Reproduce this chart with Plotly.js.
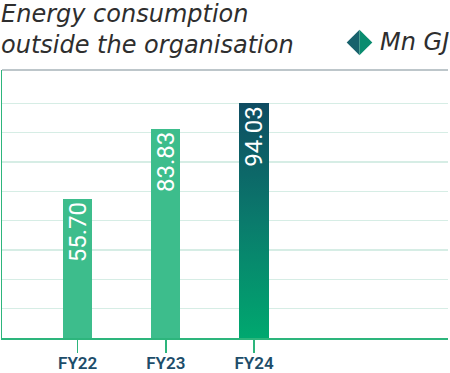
<!DOCTYPE html>
<html>
<head>
<meta charset="utf-8">
<script src="https://cdn.plot.ly/plotly-3.0.1.min.js"></script>
<style>html,body{margin:0;padding:0;background:#fff;}#chart{width:450px;height:373px;}</style>
</head>
<body>
<div id="chart"></div>
<script>
const categories = ["FY22", "FY23", "FY24"];
const values = [55.70, 83.83, 94.03];
const valueLabels = ["55.70", "83.83", "94.03"];
const unitLabel = "Mn GJ";
const titleLines = ["Energy consumption", "outside the organisation"];

const barColors = ["#3dbd8c", "#3dbd8c", "#0b6b68"];
const gridStep = 11.754;
const gridVals = [];
for (let i = 1; i <= 8; i++) gridVals.push(i * gridStep);

// pixel -> paper helpers (plot area: x 2..448, y 70..338)
const L = 2, R = 2, T = 70, B = 35, W = 450, H = 373;
const pw = W - L - R, ph = H - T - B;
const px = x => (x - L) / pw;
const py = y => (H - B - y) / ph;

const trace = {
  type: "bar",
  x: categories,
  y: values,
  text: valueLabels,
  texttemplate: "%{text}",
  textposition: "inside",
  insidetextanchor: "end",
  textangle: -90,
  constraintext: "none",
  cliponaxis: false,
  textfont: {family: "Roboto, sans-serif", size: 24, color: "#ffffff"},
  marker: {color: barColors, line: {width: 0}},
  width: 0.33,
  hoverinfo: "skip",
  showlegend: false
};

const cx = 359.5, cy = 42.5, hs = 12.8;
const shapes = [
  {type: "line", xref: "paper", yref: "paper", x0: px(2), x1: px(448), y0: py(70), y1: py(70),
   line: {color: "#a7b3b8", width: 1.5}},
  {type: "path", xref: "paper", yref: "paper",
   path: `M ${px(cx-hs)} ${py(cy)} L ${px(cx)} ${py(cy-hs)} L ${px(cx)} ${py(cy+hs)} Z`,
   fillcolor: "#17616c", line: {width: 0}},
  {type: "path", xref: "paper", yref: "paper",
   path: `M ${px(cx)} ${py(cy-hs)} L ${px(cx+hs)} ${py(cy)} L ${px(cx)} ${py(cy+hs)} Z`,
   fillcolor: "#0a8c6f", line: {width: 0}}
];

const titleFont = {family: "'DejaVu Sans', sans-serif", size: 24, color: "#2e2e2e", style: "italic", weight: 400};
const annotations = [
  {xref: "paper", yref: "paper", x: px(-1), y: py(-2), xanchor: "left", yanchor: "top",
   text: titleLines.join("<br>"), showarrow: false, align: "left",
   font: titleFont},
  {xref: "paper", yref: "paper", x: px(451), y: py(cy), xanchor: "right", yanchor: "middle",
   text: unitLabel, showarrow: false,
   font: titleFont}
];

const layout = {
  width: W, height: H,
  margin: {l: L, r: R, t: T, b: B, pad: 0},
  paper_bgcolor: "#ffffff", plot_bgcolor: "#ffffff",
  showlegend: false,
  bargap: 0,
  xaxis: {
    type: "category",
    range: [-0.858, 4.2],
    showgrid: false, zeroline: false,
    showline: true, linecolor: "#2db57c", linewidth: 1.5,
    ticks: "outside", ticklen: 13, tickwidth: 1.5, tickcolor: "#2db57c",
    ticklabelstandoff: -4,
    tickfont: {family: "Roboto, sans-serif", size: 17, color: "#1d4d6a", weight: 600},
    fixedrange: true
  },
  yaxis: {
    range: [0, 107.4],
    tickmode: "array", tickvals: gridVals, showticklabels: false,
    showgrid: true, gridcolor: "#d6ede5", gridwidth: 1.5,
    zeroline: false, showline: true, linecolor: "#2db57c", linewidth: 1.5,
    ticks: "", fixedrange: true
  },
  shapes: shapes,
  annotations: annotations
};

Plotly.newPlot("chart", [trace], layout, {displayModeBar: false, staticPlot: true}).then(gd => {
  // gradient fill for the latest bar
  const svg = gd.querySelector(".main-svg");
  const ns = "http://www.w3.org/2000/svg";
  let defs = svg.querySelector("defs");
  if (!defs) { defs = document.createElementNS(ns, "defs"); svg.insertBefore(defs, svg.firstChild); }
  const grad = document.createElementNS(ns, "linearGradient");
  grad.setAttribute("id", "barGrad");
  grad.setAttribute("x1", "0"); grad.setAttribute("y1", "1");
  grad.setAttribute("x2", "0"); grad.setAttribute("y2", "0");
  [["0", "#00a86f"], ["0.5", "#0a7a6c"], ["1", "#0f4c62"]].forEach(([o, c]) => {
    const s = document.createElementNS(ns, "stop");
    s.setAttribute("offset", o); s.setAttribute("stop-color", c);
    grad.appendChild(s);
  });
  defs.appendChild(grad);
  const bars = gd.querySelectorAll(".bars .point path");
  if (bars.length >= 3) bars[2].style.fill = "url(#barGrad)";
});
</script>
</body>
</html>
